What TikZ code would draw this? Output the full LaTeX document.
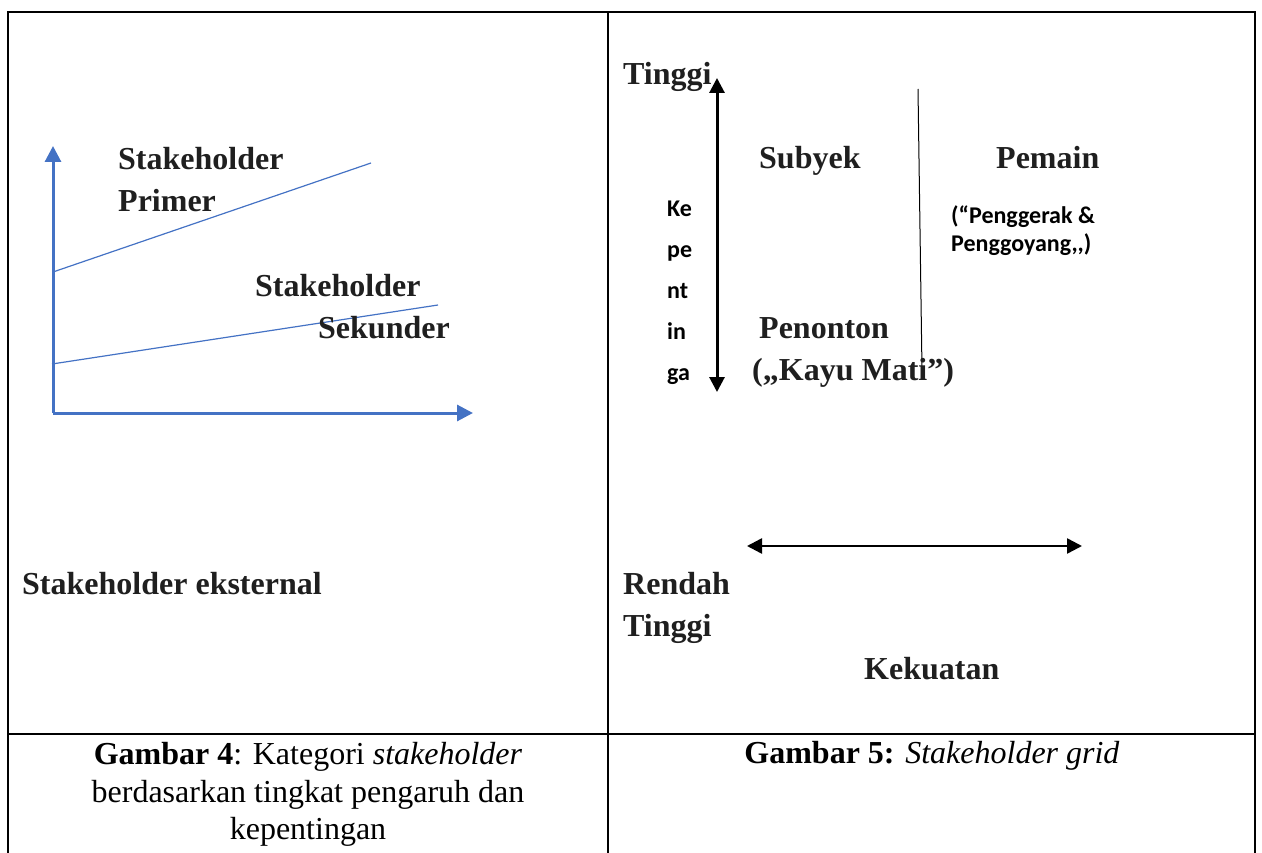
\documentclass[tikz,border=0pt]{standalone}
\usepackage{fontspec}
\setmainfont{Liberation Serif}
\newfontfamily\calibri{Carlito}
\usetikzlibrary{arrows.meta}
\definecolor{axisblue}{HTML}{4472C4}
\tikzset{
  head/.style    = {anchor=base west, inner sep=0pt, text=black!88,
                    font=\fontsize{32}{38}\selectfont\bfseries},
  syll/.style    = {anchor=base west, inner sep=0pt,
                    font=\fontsize{24}{28}\calibri\bfseries},
  capt/.style    = {anchor=base, inner sep=0pt, font=\fontsize{32}{37}\selectfont},
  frame/.style   = {line width=2pt, line join=miter},
  axis/.style    = {axisblue, line width=3pt, -{Triangle[length=16pt,width=16pt]}},
  trend/.style   = {axisblue, line width=1.2pt},
  twoway/.style  = {line width=3pt,
                    {Triangle[length=15pt,width=15pt]}-{Triangle[length=15pt,width=15pt]}},
  divider/.style = {line width=1pt},
}
\begin{document}
\begin{tikzpicture}[x=1pt,y=-1pt]
  \useasboundingbox (0,0) rectangle (1262,853);
  % table frame
  \draw[frame] (8,853) -- (8,12) -- (1255,12) -- (1255,853);
  \draw[frame] (608,12) -- (608,853);
  \draw[frame] (8,734) -- (1255,734);

  % left cell: stakeholder categories
  \coordinate (orig) at (53,413);
  \coordinate (ytip) at (53,146);
  \coordinate (xtip) at (473,413);
  \draw[axis] (orig) -- (ytip);
  \draw[axis] (orig) -- (xtip);
  \coordinate (prim1) at (53,272);
  \coordinate (prim2) at (371,163);
  \coordinate (sek1)  at (52,364);
  \coordinate (sek2)  at (438,305);
  \draw[trend] (prim1) -- (prim2);
  \draw[trend] (sek1) -- (sek2);

  \node[head] (primA) at (118,170) {Stakeholder};
  \node[head] (primB) at (118,212) {Primer};
  \node[head] (sekA)  at (255,297) {Stakeholder};
  \node[head] (sekB)  at (318,338) {Sekunder};
  \node[head] (ekst)  at (22,594)  {Stakeholder eksternal};

  % right cell: stakeholder grid
  \node[head] (tinggiA) at (623,85) {Tinggi};
  \coordinate (vtop) at (717,78);
  \coordinate (vbot) at (717,392);
  \draw[twoway] (vbot) -- (vtop);
  \foreach \syl [count=\i from 0] in {Ke,pe,nt,in,ga}
    \node[syll] (kep\i) at (667,217+41*\i) {\syl};

  \coordinate (div1) at (918,89);
  \coordinate (div2) at (922,370);
  \draw[divider] (div1) -- (div2);

  \node[head] (subyek)  at (759,169) {Subyek};
  \node[head] (pemain)  at (996,169) {Pemain};
  \node[syll] (pemainA) at (951,224) {(“Penggerak \&};
  \node[syll] (pemainB) at (951,252) {Penggoyang,,)};
  \node[head] (penonton)  at (759,338) {Penonton};
  \node[head] (penontonB) at (752,380) {(,,Kayu Mati”)};

  \coordinate (hleft)  at (747,546);
  \coordinate (hright) at (1082,546);
  \draw[twoway, line width=2.5pt] (hleft) -- (hright);
  \node[head] (rendah)   at (623,594) {Rendah};
  \node[head] (tinggiB)  at (623,636) {Tinggi};
  \node[head] (kekuatan) at (864,679) {Kekuatan};

  % captions
  \node[capt] (capA1) at (308,764) {\textbf{Gambar 4}: Kategori \textit{stakeholder}};
  \node[capt] (capA2) at (308,802) {berdasarkan tingkat pengaruh dan};
  \node[capt] (capA3) at (308,839) {kepentingan};
  \node[capt] (capB)  at (932,763) {\textbf{Gambar 5:} \textit{Stakeholder grid}};
\end{tikzpicture}
\end{document}
